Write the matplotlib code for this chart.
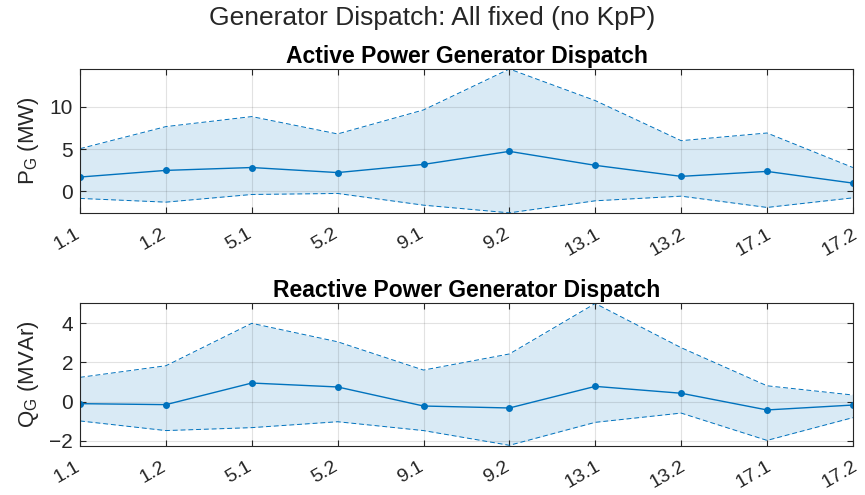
import matplotlib
matplotlib.use('Agg')
import matplotlib.pyplot as plt
from matplotlib.transforms import ScaledTranslation

plt.rcParams['font.family'] = ['Liberation Sans', 'DejaVu Sans']
plt.rcParams['mathtext.fontset'] = 'custom'
plt.rcParams['mathtext.rm'] = 'Liberation Sans'
plt.rcParams['mathtext.it'] = 'Liberation Sans'

# generator labels
gens = ['1.1', '1.2', '5.1', '5.2', '9.1', '9.2', '13.1', '13.2', '17.1', '17.2']

# active power (MW)
p_mean = [1.67, 2.46, 2.80, 2.20, 3.17, 4.72, 3.06, 1.75, 2.34, 0.95]
p_upper = [5.04, 7.66, 8.85, 6.79, 9.64, 14.5, 10.75, 5.99, 6.90, 2.80]
p_lower = [-0.87, -1.31, -0.40, -0.28, -1.67, -2.58, -1.15, -0.60, -1.94, -0.80]

# reactive power (MVAr)
q_mean = [-0.10, -0.15, 0.95, 0.75, -0.22, -0.32, 0.78, 0.43, -0.42, -0.17]
q_upper = [1.24, 1.83, 3.99, 3.05, 1.61, 2.43, 5.0, 2.75, 0.81, 0.34]
q_lower = [-0.98, -1.47, -1.32, -1.02, -1.47, -2.22, -1.05, -0.58, -1.97, -0.81]

blue = '#0072BD'
dark = '#262626'

fig = plt.figure(figsize=(8.65, 4.95), dpi=100)
ax1 = fig.add_axes([0.0925, 0.5697, 0.8935, 0.2909])
ax2 = fig.add_axes([0.0925, 0.0996, 0.8935, 0.2889])

def panel(ax, mean, upper, lower, title, ylabel, yticks, ylim):
    x = list(range(len(gens)))
    ax.fill_between(x, lower, upper, color=blue, alpha=0.15, linewidth=0)
    ax.plot(x, upper, '--', color=blue, linewidth=0.7, dashes=(5, 3))
    ax.plot(x, lower, '--', color=blue, linewidth=0.7, dashes=(5, 3))
    ax.plot(x, mean, '-', color=blue, linewidth=1.0, marker='o', markersize=4)
    ax.set_xlim(0, len(gens) - 1)
    ax.set_ylim(*ylim)
    ax.set_xticks(x)
    ax.set_yticks(yticks)
    ax.tick_params(direction='in', top=True, right=True, colors=dark,
                   labelsize=15, length=4)
    ax.tick_params(axis='x', pad=9, labelsize=14)
    ax.tick_params(axis='y', pad=5)
    ax.set_xticklabels(gens, rotation=30, ha='center')
    # rotated labels sit a bit left of their ticks
    shift = ScaledTranslation(-0.13, 0, fig.dpi_scale_trans)
    for lab in ax.get_xticklabels():
        lab.set_transform(lab.get_transform() + shift)
    ax.grid(True, color='#262626', alpha=0.13, linewidth=0.8)
    for s in ax.spines.values():
        s.set_color(dark)
        s.set_linewidth(0.8)
    ax.set_title(title, fontsize=16.5, fontweight='bold', pad=4)
    ax.set_ylabel(ylabel, fontsize=16, color=dark, labelpad=6)

panel(ax1, p_mean, p_upper, p_lower, 'Active Power Generator Dispatch',
      r'$\mathregular{P_G}$ (MW)', [0, 5, 10], (-2.6, 14.5))
panel(ax2, q_mean, q_upper, q_lower, 'Reactive Power Generator Dispatch',
      r'$\mathregular{Q_G}$ (MVAr)', [-2, 0, 2, 4], (-2.24, 5.04))

fig.suptitle('Generator Dispatch: All fixed (no KpP)', fontsize=19,
             color=dark, y=0.988)

fig.savefig('out.png', dpi=100)
